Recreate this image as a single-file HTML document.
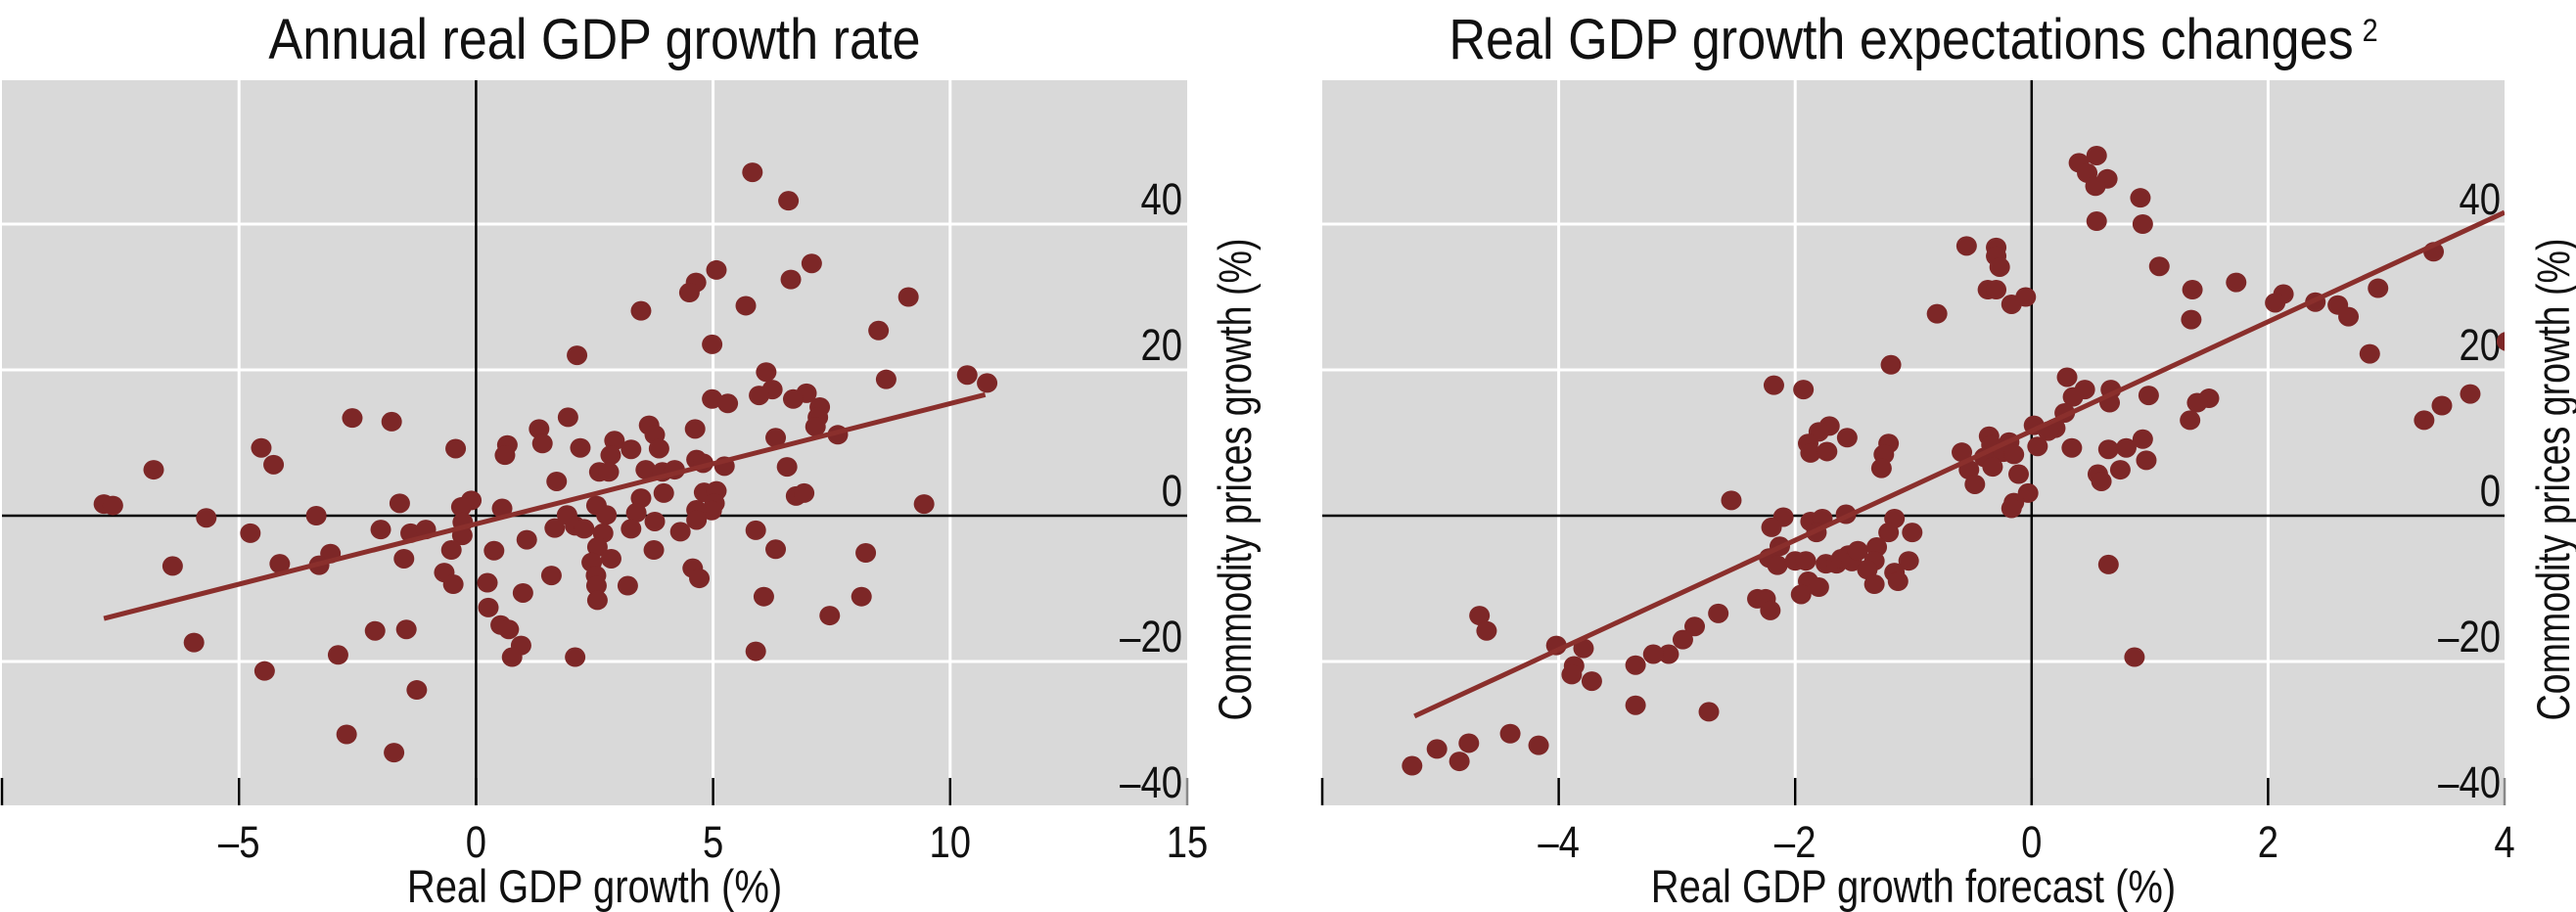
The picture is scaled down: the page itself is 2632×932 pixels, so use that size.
<!DOCTYPE html>
<html><head><meta charset="utf-8"><style>
html,body{margin:0;padding:0;background:#fff}
svg{display:block}
text{font-family:"Liberation Sans",sans-serif;fill:#111}
</style></head><body>
<svg id="chart" width="2632" height="932" viewBox="0 0 2632 932" xmlns="http://www.w3.org/2000/svg"></svg>
<script>
const leftX=[5.83,6.59,7.08,5.07,6.64,4.64,4.50,9.12,3.48,5.69,8.49,4.98,2.13,6.12,10.36,8.65,10.78,6.25,5.97,6.97,6.69,4.98,5.31,7.25,7.21,7.16,-2.61,-1.78,1.94,1.33,1.40,3.65,3.77,3.86,4.62,6.32,7.63,2.92,2.84,2.20,3.27,0.66,0.61,-0.43,-4.53,-4.27,-6.80,1.70,2.60,2.80,3.58,3.93,4.19,4.65,4.79,5.24,6.56,3.96,3.48,4.81,5.07,5.03,4.97,4.65,4.65,6.75,6.92,9.45,-7.85,-7.66,-5.69,-3.37,-1.61,-0.10,-0.31,-0.28,0.55,1.92,2.54,2.75,3.38,3.77,2.09,2.28,-4.76,-2.01,-1.38,-1.06,-0.29,1.66,2.68,3.27,4.31,5.90,1.07,0.38,-0.52,2.56,6.32,3.75,8.22,-3.07,-3.31,-4.14,-1.52,2.85,2.44,-6.40,2.53,-0.67,-0.48,1.59,4.57,4.71,0.24,2.54,3.20,0.99,2.56,6.07,8.13,0.26,7.46,0.52,0.69,0.95,0.76,2.09,5.90,-5.95,-2.13,-1.47,-2.91,-4.46,-1.25,-2.73,-1.73];
const leftY=[47.1,43.2,34.6,33.7,32.4,32.0,30.6,30.0,28.1,28.8,25.4,23.5,22.0,19.7,19.3,18.7,18.2,17.3,16.5,16.8,16.0,16.0,15.4,14.9,13.5,12.2,13.4,12.9,13.5,11.9,9.9,12.4,11.1,9.2,11.9,10.7,11.1,10.3,8.3,9.3,9.1,9.7,8.3,9.2,9.3,7.0,6.3,4.7,6.0,6.0,6.3,6.0,6.3,7.7,7.2,6.8,6.7,3.1,2.4,3.2,3.4,1.7,0.7,0.8,-0.6,2.7,3.1,1.6,1.6,1.4,-0.3,0,1.7,2.1,1.2,-0.9,1.0,0.1,1.4,0.1,0.4,-0.8,-1.4,-1.8,-2.4,-1.9,-2.4,-1.9,-2.7,-1.7,-2.4,-1.8,-2.2,-2.0,-3.3,-4.8,-4.7,-4.3,-4.6,-4.7,-5.1,-5.2,-6.8,-6.6,-5.9,-5.9,-6.4,-6.9,-8.2,-7.8,-9.4,-8.2,-7.2,-8.6,-9.2,-9.6,-9.6,-10.6,-11.6,-11.1,-11.1,-12.6,-13.7,-15.0,-15.6,-17.8,-19.4,-19.4,-18.6,-17.4,-15.8,-15.6,-19.1,-21.3,-23.9,-30.0,-32.5];
const rightX=[0.55,0.40,0.47,0.64,0.54,0.92,0.55,0.94,-0.55,-0.30,-0.30,-0.27,1.08,1.73,-0.37,-0.30,1.36,2.93,2.13,2.06,2.40,2.59,2.68,3.40,-0.17,-0.05,-0.80,1.35,2.86,4.02,-1.19,-2.18,-1.93,3.71,3.47,3.32,0.30,0.45,0.35,0.67,0.66,0.99,1.50,1.40,1.34,0.28,0.20,0.02,0.14,0.05,0.34,0.65,0.80,0.94,0.97,0.75,0.56,0.59,-1.71,-1.80,-1.89,-1.87,-1.73,-1.56,-1.21,-1.25,-1.27,-2.54,-0.59,-0.36,-0.34,-0.40,-0.19,-0.24,-0.15,-0.53,-0.48,-0.33,-0.11,-0.03,-0.15,-0.17,0.65,0.87,-2.10,-2.20,-1.87,-1.77,-1.82,-1.57,-1.16,-1.21,-1.01,-2.13,-2.22,-2.15,-2.00,-1.91,-1.74,-1.65,-1.61,-1.55,-1.52,-1.47,-1.31,-1.33,-1.39,-1.04,-1.16,-1.13,-1.33,-1.89,-1.80,-1.95,-2.32,-2.25,-2.21,-2.65,-2.85,-2.95,-3.07,-3.20,-3.35,-3.79,-4.02,-3.87,-3.89,-3.72,-4.67,-4.61,-3.35,-2.73,-4.41,-4.17,-4.76,-5.03,-4.84,-5.24];
const rightY=[49.4,48.4,47.0,46.2,45.2,43.6,40.4,40.0,37.0,36.8,35.6,34.1,34.2,32.0,31.0,31.0,31.0,31.2,30.4,29.2,29.3,28.9,27.3,36.2,29.0,30.0,27.7,26.9,22.2,23.9,20.7,17.9,17.3,16.7,15.1,13.1,19.0,17.3,16.3,17.3,15.5,16.5,16.1,15.5,13.1,14.1,12.0,12.4,11.6,9.5,9.3,9.1,9.3,10.5,7.6,6.3,5.7,4.7,12.3,11.5,9.9,8.6,8.8,10.7,9.9,8.4,6.5,2.1,8.7,10.9,9.7,8.0,10.1,8.7,8.4,6.3,4.3,6.7,5.7,3.1,1.8,1.0,-6.7,-19.4,-0.2,-1.6,-0.8,-0.4,-2.3,0.2,-0.4,-2.3,-2.3,-4.2,-5.8,-6.8,-6.2,-6.2,-6.6,-6.6,-5.9,-5.4,-6.3,-4.8,-4.3,-6.2,-7.4,-6.2,-7.8,-9.0,-9.4,-9.0,-9.8,-10.8,-11.4,-11.4,-13.0,-13.4,-15.2,-17.0,-19.0,-19.0,-20.5,-18.2,-17.8,-20.6,-21.8,-22.7,-13.7,-15.8,-26.0,-26.9,-29.9,-31.5,-31.2,-32.0,-33.7,-34.3];
const leftFit=[-7.85,-14.1,10.74,16.6];
const rightFit=[-5.22,-27.5,4.0,41.6];
const leftXTicks=[-10,-5,0,5,10,15];
const leftXLabels=["","–5","0","5","10","15"];
const rightXTicks=[-6,-4,-2,0,2,4];
const rightXLabels=["","–4","–2","0","2","4"];
const yTicks=[-40,-20,0,20,40];
const yLabels=["–40","–20","0","20","40"];

const svg=document.getElementById('chart');
const NS='http://www.w3.org/2000/svg';
function mk(tag,attrs,parent){const e=document.createElementNS(NS,tag);for(const k in attrs)e.setAttribute(k,attrs[k]);(parent||svg).appendChild(e);return e;}
function txt(parent,x,y,str,size,anchor,sx,rot){
  const t=mk('text',{x:0,y:0,'text-anchor':anchor,'font-size':size,transform:'translate('+x+','+y+')'+(rot?' rotate(-90)':'')+' scale('+sx+',1)'},parent);
  t.textContent=str;return t;
}
const yS=v=>527-7.45*v;
const Y0=82,Y1=823;

function panel(id,x0,x1,xmin,xmax,xt,xl,xs,ys,fit,title,xtitle,labelRight,ytitleX,titleSup){
  const xS=v=>x0+(v-xmin)*(x1-x0)/(xmax-xmin);
  const g=mk('g',{});
  
  
  const cp=mk('clipPath',{id:id+'-clip'},g);
  mk('rect',{x:x0,y:Y0,width:x1-x0,height:Y1-Y0},cp);
  const bg=mk('rect',{x:x0,y:Y0,width:x1-x0,height:Y1-Y0,fill:'#d9d9d9'},g);
  
  
  yTicks.forEach((t,i)=>{
    if(t!==0&&t!==-40){const l=mk('line',{x1:x0,x2:x1,y1:yS(t),y2:yS(t),stroke:'#fff','stroke-width':3},g);
      
      }
  });
  xt.forEach(t=>{
    if(t!==0&&t!==xmin&&t!==xmax){const l=mk('line',{x1:xS(t),x2:xS(t),y1:Y0,y2:Y1,stroke:'#fff','stroke-width':3},g);
      
      }
  });
  const hz=mk('line',{x1:x0,x2:x1,y1:yS(0),y2:yS(0),stroke:'#000','stroke-width':2.5},g);
  
  
  const vz=mk('line',{x1:xS(0),x2:xS(0),y1:Y0,y2:Y1,stroke:'#000','stroke-width':2.5},g);
  
  
  xt.forEach((t,i)=>{
    const tk=mk('line',{x1:xS(t),x2:xS(t),y1:Y1-28,y2:Y1,stroke:t===xmax?'#888':'#000','stroke-width':2.5},g);
    
    
    if(xl[i]){const tx=txt(g,xS(t),876,xl[i],45,'middle',0.85,false);
      
      }
  });
  yTicks.forEach((t,i)=>{
    const tx=txt(g,labelRight,yS(t)-10,yLabels[i],45,'end',0.85,false);
    
    
  });
  const dg=mk('g',{'clip-path':'url(#'+id+'-clip)'},g);
  xs.forEach((v,i)=>{
    const c=mk('ellipse',{cx:xS(v),cy:yS(ys[i]),rx:10.5,ry:10,fill:'#7d2727'},dg);
    
    
  });
  const fl=mk('line',{x1:xS(fit[0]),y1:yS(fit[1]),x2:xS(fit[2]),y2:yS(fit[3]),stroke:'#8a2f2c','stroke-width':5},dg);
  
  
  const tt=txt(g,(x0+x1)/2,60,title,58,'middle',0.9,false);
  if(titleSup){const s=mk('tspan',{'font-size':32,dy:-18,dx:10},tt);s.textContent=titleSup;}
  
  
  const xa=txt(g,(x0+x1)/2,922,xtitle,47,'middle',0.85,false);
  
  
  const ya=txt(g,ytitleX+16,490,'Commodity prices growth (%)',47,'middle',0.8,true);
  
  
}
panel('left',2,1213,-10,15,leftXTicks,leftXLabels,leftX,leftY,leftFit,'Annual real GDP growth rate','Real GDP growth (%)',1208,1262,null);
panel('right',1351,2559,-6,4,rightXTicks,rightXLabels,rightX,rightY,rightFit,'Real GDP growth expectations changes','Real GDP growth forecast (%)',2555,2609,'2');
</script>
</body></html>
